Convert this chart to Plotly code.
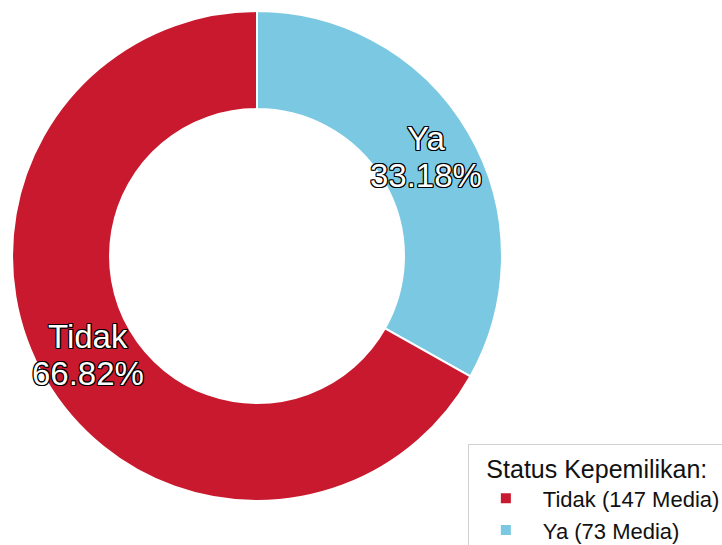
import math
import plotly.graph_objects as go

# Ownership status of media outlets
categories = ["Ya", "Tidak"]
counts = [73, 147]
colors = ["#7BC8E2", "#C8192E"]
legend_labels = [f"{c} ({n} Media)" for c, n in zip(categories, counts)]

HOLE = 0.6
DOMAIN_X = [0.0166, 0.6953]
DOMAIN_Y = [0.0808, 0.9798]
W, H = 722, 545

outline = ("-1px -1px 0 #000, 1px -1px 0 #000, -1px 1px 0 #000, 1px 1px 0 #000, "
           "0 1px 0 #000, 0 -1px 0 #000, 1px 0 0 #000, -1px 0 0 #000")
label_font = dict(family="Liberation Sans, Arial", size=33, color="white", shadow=outline)

fig = go.Figure(
    go.Pie(
        labels=legend_labels,
        values=counts,
        textinfo="none",
        hole=HOLE,
        sort=False,
        direction="clockwise",
        rotation=0,
        marker=dict(colors=colors, line=dict(color="white", width=2)),
        domain=dict(x=DOMAIN_X, y=DOMAIN_Y),
    )
)

# Slice labels (name above, share below) centred in the ring at each slice's mid-angle
cx_px = (DOMAIN_X[0] + DOMAIN_X[1]) / 2 * W
cy_px = (DOMAIN_Y[0] + DOMAIN_Y[1]) / 2 * H
radius = min((DOMAIN_X[1] - DOMAIN_X[0]) * W, (DOMAIN_Y[1] - DOMAIN_Y[0]) * H) / 2
r_mid = radius * (1 + HOLE) / 2
total = sum(counts)
start = 0.0
for name, n in zip(categories, counts):
    frac = n / total
    mid = (start + frac / 2) * 2 * math.pi
    start += frac
    x = (cx_px + r_mid * math.sin(mid)) / W
    y = (cy_px + r_mid * math.cos(mid)) / H
    for line, shift in ((name, 18.5), (f"{frac * 100:.2f}%", -18.5)):
        fig.add_annotation(
            x=x, y=y, xref="paper", yref="paper", yshift=shift,
            text=line, showarrow=False, font=label_font,
            xanchor="center", yanchor="middle",
        )

fig.update_layout(
    width=W,
    height=H,
    margin=dict(l=0, r=0, t=0, b=0, autoexpand=False),
    paper_bgcolor="white",
    plot_bgcolor="white",
    font=dict(family="Liberation Sans, Arial", color="#111"),
    legend=dict(
        title=dict(text="Status Kepemilikan:", font=dict(size=25), side="top center"),
        font=dict(size=22),
        traceorder="reversed",
        x=0.648,
        y=0.1853,
        xanchor="left",
        yanchor="top",
        bordercolor="#d0d0d0",
        borderwidth=1,
        bgcolor="white",
        itemwidth=64,
    ),
)

fig.write_html("out.html")
